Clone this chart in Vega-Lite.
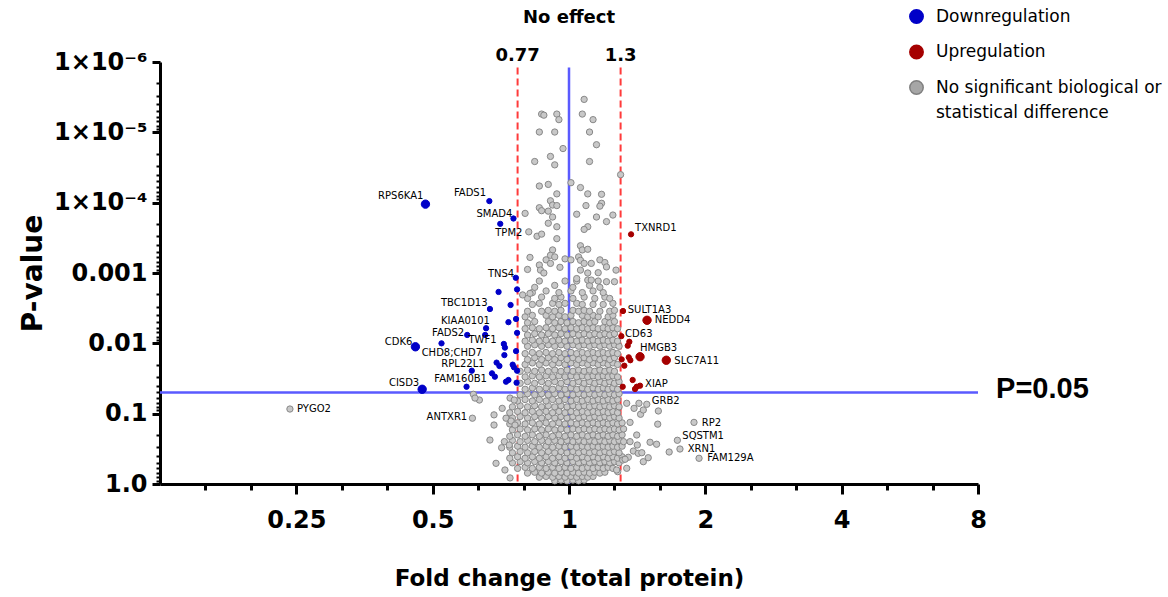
{
"$schema":"https://vega.github.io/schema/vega-lite/v6.json",
"width":818,"height":422,
"autosize":{"type":"none"},
"padding":{"left":160,"top":62,"right":190,"bottom":113},
"background":"white",
"config":{"view":{"stroke":null},"font":"DejaVu Sans","axis":{"grid":false},"style":{"guide-label":{"lineHeight":25}}},
"resolve":{"axis":{"x":"independent","y":"independent"}},
"datasets":{
"ns":[
{"f":0.93,"p":0.9},{"f":0.96,"p":0.88},{"f":0.99,"p":0.9},{"f":1.02,"p":0.88},{"f":1.05,"p":0.9},{"f":1.08,"p":0.88},
{"f":0.86,"p":0.8},{"f":0.89,"p":0.78},{"f":0.92,"p":0.8},{"f":0.95,"p":0.78},{"f":0.98,"p":0.8},{"f":1.01,"p":0.78},{"f":1.04,"p":0.8},{"f":1.07,"p":0.78},{"f":1.1,"p":0.8},{"f":1.13,"p":0.78},
{"f":0.81,"p":0.7},{"f":0.84,"p":0.68},{"f":0.87,"p":0.7},{"f":0.9,"p":0.68},{"f":0.93,"p":0.7},{"f":0.96,"p":0.68},{"f":0.99,"p":0.7},{"f":1.02,"p":0.68},{"f":1.05,"p":0.7},{"f":1.08,"p":0.68},{"f":1.11,"p":0.7},{"f":1.14,"p":0.68},{"f":1.17,"p":0.7},{"f":1.2,"p":0.68},
{"f":0.77,"p":0.6},{"f":0.8,"p":0.58},{"f":0.83,"p":0.6},{"f":0.86,"p":0.58},{"f":0.89,"p":0.6},{"f":0.92,"p":0.58},{"f":0.95,"p":0.6},{"f":0.98,"p":0.58},{"f":1.01,"p":0.6},{"f":1.04,"p":0.58},{"f":1.07,"p":0.6},{"f":1.1,"p":0.58},{"f":1.13,"p":0.6},{"f":1.16,"p":0.58},{"f":1.19,"p":0.6},{"f":1.22,"p":0.58},{"f":1.25,"p":0.6},
{"f":0.75,"p":0.5},{"f":0.78,"p":0.48},{"f":0.81,"p":0.5},{"f":0.84,"p":0.48},{"f":0.87,"p":0.5},{"f":0.9,"p":0.48},{"f":0.93,"p":0.5},{"f":0.96,"p":0.48},{"f":0.99,"p":0.5},{"f":1.02,"p":0.48},{"f":1.05,"p":0.5},{"f":1.08,"p":0.48},{"f":1.11,"p":0.5},{"f":1.14,"p":0.48},{"f":1.17,"p":0.5},{"f":1.2,"p":0.48},{"f":1.23,"p":0.5},{"f":1.26,"p":0.48},{"f":1.29,"p":0.5},
{"f":0.74,"p":0.43},{"f":0.77,"p":0.41},{"f":0.8,"p":0.43},{"f":0.83,"p":0.41},{"f":0.86,"p":0.43},{"f":0.89,"p":0.41},{"f":0.92,"p":0.43},{"f":0.95,"p":0.41},{"f":0.98,"p":0.43},{"f":1.01,"p":0.41},{"f":1.04,"p":0.43},{"f":1.07,"p":0.41},{"f":1.1,"p":0.43},{"f":1.13,"p":0.41},{"f":1.16,"p":0.43},{"f":1.19,"p":0.41},{"f":1.22,"p":0.43},{"f":1.25,"p":0.41},{"f":1.28,"p":0.43},{"f":1.31,"p":0.41},
{"f":0.75,"p":0.36},{"f":0.78,"p":0.345},{"f":0.81,"p":0.36},{"f":0.84,"p":0.345},{"f":0.87,"p":0.36},{"f":0.9,"p":0.345},{"f":0.93,"p":0.36},{"f":0.96,"p":0.345},{"f":0.99,"p":0.36},{"f":1.02,"p":0.345},{"f":1.05,"p":0.36},{"f":1.08,"p":0.345},{"f":1.11,"p":0.36},{"f":1.14,"p":0.345},{"f":1.17,"p":0.36},{"f":1.2,"p":0.345},{"f":1.23,"p":0.36},{"f":1.26,"p":0.345},{"f":1.29,"p":0.36},
{"f":0.74,"p":0.3},{"f":0.77,"p":0.29},{"f":0.8,"p":0.3},{"f":0.83,"p":0.29},{"f":0.86,"p":0.3},{"f":0.89,"p":0.29},{"f":0.92,"p":0.3},{"f":0.95,"p":0.29},{"f":0.98,"p":0.3},{"f":1.01,"p":0.29},{"f":1.04,"p":0.3},{"f":1.07,"p":0.29},{"f":1.1,"p":0.3},{"f":1.13,"p":0.29},{"f":1.16,"p":0.3},{"f":1.19,"p":0.29},{"f":1.22,"p":0.3},{"f":1.25,"p":0.29},{"f":1.28,"p":0.3},{"f":1.31,"p":0.29},
{"f":0.72,"p":0.25},{"f":0.75,"p":0.24},{"f":0.78,"p":0.25},{"f":0.81,"p":0.24},{"f":0.84,"p":0.25},{"f":0.87,"p":0.24},{"f":0.9,"p":0.25},{"f":0.93,"p":0.24},{"f":0.96,"p":0.25},{"f":0.99,"p":0.24},{"f":1.02,"p":0.25},{"f":1.05,"p":0.24},{"f":1.08,"p":0.25},{"f":1.11,"p":0.24},{"f":1.14,"p":0.25},{"f":1.17,"p":0.24},{"f":1.2,"p":0.25},{"f":1.23,"p":0.24},{"f":1.26,"p":0.25},{"f":1.29,"p":0.24},{"f":1.32,"p":0.25},
{"f":0.74,"p":0.21},{"f":0.77,"p":0.2},{"f":0.8,"p":0.21},{"f":0.83,"p":0.2},{"f":0.86,"p":0.21},{"f":0.89,"p":0.2},{"f":0.92,"p":0.21},{"f":0.95,"p":0.2},{"f":0.98,"p":0.21},{"f":1.01,"p":0.2},{"f":1.04,"p":0.21},{"f":1.07,"p":0.2},{"f":1.1,"p":0.21},{"f":1.13,"p":0.2},{"f":1.16,"p":0.21},{"f":1.19,"p":0.2},{"f":1.22,"p":0.21},{"f":1.25,"p":0.2},{"f":1.28,"p":0.21},{"f":1.31,"p":0.2},
{"f":0.75,"p":0.17},{"f":0.78,"p":0.165},{"f":0.81,"p":0.17},{"f":0.84,"p":0.165},{"f":0.87,"p":0.17},{"f":0.9,"p":0.165},{"f":0.93,"p":0.17},{"f":0.96,"p":0.165},{"f":0.99,"p":0.17},{"f":1.02,"p":0.165},{"f":1.05,"p":0.17},{"f":1.08,"p":0.165},{"f":1.11,"p":0.17},{"f":1.14,"p":0.165},{"f":1.17,"p":0.17},{"f":1.2,"p":0.165},{"f":1.23,"p":0.17},{"f":1.26,"p":0.165},{"f":1.29,"p":0.17},{"f":1.32,"p":0.165},
{"f":0.74,"p":0.14},{"f":0.77,"p":0.135},{"f":0.8,"p":0.14},{"f":0.83,"p":0.135},{"f":0.86,"p":0.14},{"f":0.89,"p":0.135},{"f":0.92,"p":0.14},{"f":0.95,"p":0.135},{"f":0.98,"p":0.14},{"f":1.01,"p":0.135},{"f":1.04,"p":0.14},{"f":1.07,"p":0.135},{"f":1.1,"p":0.14},{"f":1.13,"p":0.135},{"f":1.16,"p":0.14},{"f":1.19,"p":0.135},{"f":1.22,"p":0.14},{"f":1.25,"p":0.135},{"f":1.28,"p":0.14},{"f":1.31,"p":0.135},
{"f":0.75,"p":0.115},{"f":0.78,"p":0.11},{"f":0.81,"p":0.115},{"f":0.84,"p":0.11},{"f":0.87,"p":0.115},{"f":0.9,"p":0.11},{"f":0.93,"p":0.115},{"f":0.96,"p":0.11},{"f":0.99,"p":0.115},{"f":1.02,"p":0.11},{"f":1.05,"p":0.115},{"f":1.08,"p":0.11},{"f":1.11,"p":0.115},{"f":1.14,"p":0.11},{"f":1.17,"p":0.115},{"f":1.2,"p":0.11},{"f":1.23,"p":0.115},{"f":1.26,"p":0.11},{"f":1.29,"p":0.115},
{"f":0.74,"p":0.097},{"f":0.77,"p":0.093},{"f":0.8,"p":0.097},{"f":0.83,"p":0.093},{"f":0.86,"p":0.097},{"f":0.89,"p":0.093},{"f":0.92,"p":0.097},{"f":0.95,"p":0.093},{"f":0.98,"p":0.097},{"f":1.01,"p":0.093},{"f":1.04,"p":0.097},{"f":1.07,"p":0.093},{"f":1.1,"p":0.097},{"f":1.13,"p":0.093},{"f":1.16,"p":0.097},{"f":1.19,"p":0.093},{"f":1.22,"p":0.097},{"f":1.25,"p":0.093},{"f":1.28,"p":0.097},
{"f":0.75,"p":0.08},{"f":0.78,"p":0.077},{"f":0.81,"p":0.08},{"f":0.84,"p":0.077},{"f":0.87,"p":0.08},{"f":0.9,"p":0.077},{"f":0.93,"p":0.08},{"f":0.96,"p":0.077},{"f":0.99,"p":0.08},{"f":1.02,"p":0.077},{"f":1.05,"p":0.08},{"f":1.08,"p":0.077},{"f":1.11,"p":0.08},{"f":1.14,"p":0.077},{"f":1.17,"p":0.08},{"f":1.2,"p":0.077},{"f":1.23,"p":0.08},{"f":1.26,"p":0.077},{"f":1.29,"p":0.08},
{"f":0.77,"p":0.066},{"f":0.8,"p":0.063},{"f":0.83,"p":0.066},{"f":0.86,"p":0.063},{"f":0.89,"p":0.066},{"f":0.92,"p":0.063},{"f":0.95,"p":0.066},{"f":0.98,"p":0.063},{"f":1.01,"p":0.066},{"f":1.04,"p":0.063},{"f":1.07,"p":0.066},{"f":1.1,"p":0.063},{"f":1.13,"p":0.066},{"f":1.16,"p":0.063},{"f":1.19,"p":0.066},{"f":1.22,"p":0.063},{"f":1.25,"p":0.066},{"f":1.28,"p":0.063},
{"f":0.78,"p":0.054},{"f":0.81,"p":0.052},{"f":0.84,"p":0.054},{"f":0.87,"p":0.052},{"f":0.9,"p":0.054},{"f":0.93,"p":0.052},{"f":0.96,"p":0.054},{"f":0.99,"p":0.052},{"f":1.02,"p":0.054},{"f":1.05,"p":0.052},{"f":1.08,"p":0.054},{"f":1.11,"p":0.052},{"f":1.14,"p":0.054},{"f":1.17,"p":0.052},{"f":1.2,"p":0.054},{"f":1.23,"p":0.052},{"f":1.26,"p":0.054},{"f":1.29,"p":0.052},
{"f":0.8,"p":0.045},{"f":0.83,"p":0.043},{"f":0.86,"p":0.045},{"f":0.89,"p":0.043},{"f":0.92,"p":0.045},{"f":0.95,"p":0.043},{"f":0.98,"p":0.045},{"f":1.01,"p":0.043},{"f":1.04,"p":0.045},{"f":1.07,"p":0.043},{"f":1.1,"p":0.045},{"f":1.13,"p":0.043},{"f":1.16,"p":0.045},{"f":1.19,"p":0.043},{"f":1.22,"p":0.045},{"f":1.25,"p":0.043},{"f":1.28,"p":0.045},
{"f":0.78,"p":0.037},{"f":0.81,"p":0.035},{"f":0.84,"p":0.037},{"f":0.87,"p":0.035},{"f":0.9,"p":0.037},{"f":0.93,"p":0.035},{"f":0.96,"p":0.037},{"f":0.99,"p":0.035},{"f":1.02,"p":0.037},{"f":1.05,"p":0.035},{"f":1.08,"p":0.037},{"f":1.11,"p":0.035},{"f":1.14,"p":0.037},{"f":1.17,"p":0.035},{"f":1.2,"p":0.037},{"f":1.23,"p":0.035},{"f":1.26,"p":0.037},{"f":1.29,"p":0.035},
{"f":0.8,"p":0.03},{"f":0.83,"p":0.029},{"f":0.86,"p":0.03},{"f":0.89,"p":0.029},{"f":0.92,"p":0.03},{"f":0.95,"p":0.029},{"f":0.98,"p":0.03},{"f":1.01,"p":0.029},{"f":1.04,"p":0.03},{"f":1.07,"p":0.029},{"f":1.1,"p":0.03},{"f":1.13,"p":0.029},{"f":1.16,"p":0.03},{"f":1.19,"p":0.029},{"f":1.22,"p":0.03},{"f":1.25,"p":0.029},{"f":1.28,"p":0.03},
{"f":0.78,"p":0.025},{"f":0.81,"p":0.024},{"f":0.84,"p":0.025},{"f":0.87,"p":0.024},{"f":0.9,"p":0.025},{"f":0.93,"p":0.024},{"f":0.96,"p":0.025},{"f":0.99,"p":0.024},{"f":1.02,"p":0.025},{"f":1.05,"p":0.024},{"f":1.08,"p":0.025},{"f":1.11,"p":0.024},{"f":1.14,"p":0.025},{"f":1.17,"p":0.024},{"f":1.2,"p":0.025},{"f":1.23,"p":0.024},{"f":1.26,"p":0.025},
{"f":0.8,"p":0.02},{"f":0.83,"p":0.019},{"f":0.86,"p":0.02},{"f":0.89,"p":0.019},{"f":0.92,"p":0.02},{"f":0.95,"p":0.019},{"f":0.98,"p":0.02},{"f":1.01,"p":0.019},{"f":1.04,"p":0.02},{"f":1.07,"p":0.019},{"f":1.1,"p":0.02},{"f":1.13,"p":0.019},{"f":1.16,"p":0.02},{"f":1.19,"p":0.019},{"f":1.22,"p":0.02},{"f":1.25,"p":0.019},{"f":1.28,"p":0.02},
{"f":0.81,"p":0.017},{"f":0.84,"p":0.016},{"f":0.87,"p":0.017},{"f":0.9,"p":0.016},{"f":0.93,"p":0.017},{"f":0.96,"p":0.016},{"f":0.99,"p":0.017},{"f":1.02,"p":0.016},{"f":1.05,"p":0.017},{"f":1.08,"p":0.016},{"f":1.11,"p":0.017},{"f":1.14,"p":0.016},{"f":1.17,"p":0.017},{"f":1.2,"p":0.016},{"f":1.23,"p":0.017},{"f":1.26,"p":0.016},
{"f":0.8,"p":0.014},{"f":0.83,"p":0.0135},{"f":0.86,"p":0.014},{"f":0.89,"p":0.0135},{"f":0.92,"p":0.014},{"f":0.95,"p":0.0135},{"f":0.98,"p":0.014},{"f":1.01,"p":0.0135},{"f":1.04,"p":0.014},{"f":1.07,"p":0.0135},{"f":1.1,"p":0.014},{"f":1.13,"p":0.0135},{"f":1.16,"p":0.014},{"f":1.19,"p":0.0135},{"f":1.22,"p":0.014},{"f":1.25,"p":0.0135},{"f":1.28,"p":0.014},
{"f":0.81,"p":0.011},{"f":0.84,"p":0.0105},{"f":0.87,"p":0.011},{"f":0.9,"p":0.0105},{"f":0.93,"p":0.011},{"f":0.96,"p":0.0105},{"f":0.99,"p":0.011},{"f":1.02,"p":0.0105},{"f":1.05,"p":0.011},{"f":1.08,"p":0.0105},{"f":1.11,"p":0.011},{"f":1.14,"p":0.0105},{"f":1.17,"p":0.011},{"f":1.2,"p":0.0105},{"f":1.23,"p":0.011},{"f":1.26,"p":0.0105},{"f":1.29,"p":0.011},
{"f":0.8,"p":0.0093},{"f":0.83,"p":0.009},{"f":0.86,"p":0.0093},{"f":0.89,"p":0.009},{"f":0.92,"p":0.0093},{"f":0.95,"p":0.009},{"f":0.98,"p":0.0093},{"f":1.01,"p":0.009},{"f":1.04,"p":0.0093},{"f":1.07,"p":0.009},{"f":1.1,"p":0.0093},{"f":1.13,"p":0.009},{"f":1.16,"p":0.0093},{"f":1.19,"p":0.009},{"f":1.22,"p":0.0093},{"f":1.25,"p":0.009},{"f":1.28,"p":0.0093},
{"f":0.81,"p":0.0076},{"f":0.84,"p":0.0073},{"f":0.87,"p":0.0076},{"f":0.9,"p":0.0073},{"f":0.93,"p":0.0076},{"f":0.96,"p":0.0073},{"f":0.99,"p":0.0076},{"f":1.02,"p":0.0073},{"f":1.05,"p":0.0076},{"f":1.08,"p":0.0073},{"f":1.11,"p":0.0076},{"f":1.14,"p":0.0073},{"f":1.17,"p":0.0076},{"f":1.2,"p":0.0073},{"f":1.23,"p":0.0076},{"f":1.26,"p":0.0073},
{"f":0.8,"p":0.0062},{"f":0.83,"p":0.006},{"f":0.86,"p":0.0062},{"f":0.89,"p":0.006},{"f":0.92,"p":0.0062},{"f":0.95,"p":0.006},{"f":0.98,"p":0.0062},{"f":1.01,"p":0.006},{"f":1.04,"p":0.0062},{"f":1.07,"p":0.006},{"f":1.1,"p":0.0062},{"f":1.13,"p":0.006},{"f":1.16,"p":0.0062},{"f":1.19,"p":0.006},{"f":1.22,"p":0.0062},{"f":1.25,"p":0.006},{"f":1.28,"p":0.0062},
{"f":0.81,"p":0.0051},{"f":0.84,"p":0.0049},{"f":0.9,"p":0.0049},{"f":0.93,"p":0.0051},{"f":0.96,"p":0.0049},{"f":0.99,"p":0.0051},{"f":1.02,"p":0.0049},{"f":1.05,"p":0.0051},{"f":1.08,"p":0.0049},{"f":1.11,"p":0.0051},{"f":1.14,"p":0.0049},{"f":1.2,"p":0.0049},{"f":1.23,"p":0.0051},{"f":1.26,"p":0.0049},
{"f":0.8,"p":0.0042},{"f":0.83,"p":0.004},{"f":0.89,"p":0.004},{"f":0.92,"p":0.0042},{"f":0.95,"p":0.004},{"f":0.98,"p":0.0042},{"f":1.01,"p":0.004},{"f":1.07,"p":0.004},{"f":1.1,"p":0.0042},{"f":1.13,"p":0.004},{"f":1.16,"p":0.0042},{"f":1.22,"p":0.0042},{"f":1.25,"p":0.004},
{"f":0.81,"p":0.0035},{"f":0.87,"p":0.0035},{"f":0.9,"p":0.0034},{"f":0.93,"p":0.0035},{"f":0.96,"p":0.0034},{"f":1.02,"p":0.0034},{"f":1.05,"p":0.0035},{"f":1.08,"p":0.0034},{"f":1.11,"p":0.0035},{"f":1.17,"p":0.0035},{"f":1.23,"p":0.0035},{"f":1.26,"p":0.0034},
{"f":0.83,"p":0.0028},{"f":0.86,"p":0.0027},{"f":0.92,"p":0.0027},{"f":0.95,"p":0.0028},{"f":0.98,"p":0.0027},{"f":1.04,"p":0.0027},{"f":1.07,"p":0.0028},{"f":1.13,"p":0.0028},{"f":1.19,"p":0.0028},{"f":1.25,"p":0.0027},
{"f":0.81,"p":0.0023},{"f":0.87,"p":0.0022},{"f":0.93,"p":0.0023},{"f":0.96,"p":0.0022},{"f":1.02,"p":0.0023},{"f":1.08,"p":0.0022},{"f":1.14,"p":0.0023},{"f":1.2,"p":0.0022},{"f":1.23,"p":0.0023},
{"f":0.83,"p":0.0019},{"f":0.89,"p":0.0018},{"f":0.95,"p":0.0019},{"f":1.01,"p":0.0018},{"f":1.07,"p":0.0019},{"f":1.13,"p":0.0018},{"f":1.19,"p":0.0019},
{"f":0.84,"p":0.0016},{"f":0.93,"p":0.0015},{"f":1.02,"p":0.0016},{"f":1.11,"p":0.0015},{"f":1.17,"p":0.0016},
{"f":0.86,"p":0.0013},{"f":0.98,"p":0.0013},{"f":1.04,"p":0.0013},{"f":1.16,"p":0.0013},
{"f":1.08,"p":3.4e-6},{"f":0.87,"p":5.5e-6},{"f":0.88,"p":5.7e-6},{"f":0.94,"p":5.5e-6},{"f":0.95,"p":6.6e-6},{"f":1.07,"p":5.5e-6},{"f":1.13,"p":6.6e-6},{"f":0.86,"p":9.9e-6},{"f":0.93,"p":9.9e-6},{"f":1.11,"p":9.9e-6},{"f":1.15,"p":1.5e-5},{"f":0.97,"p":1.7e-5},{"f":0.91,"p":2.2e-5},{"f":0.84,"p":2.6e-5},{"f":0.93,"p":2.9e-5},{"f":1.11,"p":2.6e-5},{"f":1.3,"p":4.0e-5},{"f":1.01,"p":5.2e-5},{"f":0.86,"p":5.8e-5},{"f":0.9,"p":5.5e-5},{"f":1.06,"p":6.1e-5},{"f":0.94,"p":7.5e-5},{"f":1.1,"p":7.5e-5},{"f":1.18,"p":7.6e-5},{"f":0.91,"p":9.4e-5},{"f":0.86,"p":1.18e-4},{"f":0.92,"p":1.08e-4},{"f":0.94,"p":1.1e-4},{"f":0.87,"p":1.3e-4},{"f":0.9,"p":1.32e-4},{"f":1.09,"p":1.1e-4},{"f":1.18,"p":1.02e-4},{"f":1.17,"p":1.12e-4},{"f":0.8,"p":1.42e-4},{"f":1.04,"p":1.46e-4},{"f":1.25,"p":1.5e-4},{"f":0.92,"p":1.6e-4},{"f":1.15,"p":1.6e-4},{"f":1.21,"p":1.86e-4},{"f":0.9,"p":1.96e-4},{"f":0.94,"p":2.2e-4},{"f":1.1,"p":2.2e-4},{"f":1.08,"p":2.4e-4},{"f":0.815,"p":2.6e-4},{"f":0.85,"p":3e-4},{"f":0.87,"p":2.8e-4},{"f":0.94,"p":3.25e-4},{"f":1.06,"p":4.1e-4},{"f":1.07,"p":4.7e-4},{"f":1.1,"p":4.6e-4},{"f":0.92,"p":4.7e-4},{"f":0.91,"p":5.6e-4},{"f":0.82,"p":6e-4},{"f":0.93,"p":5.9e-4},{"f":0.89,"p":6.5e-4},{"f":0.98,"p":6.3e-4},{"f":1.01,"p":6.5e-4},{"f":1.05,"p":5.9e-4},{"f":1.06,"p":6.6e-4},{"f":1.08,"p":7.3e-4},{"f":1.12,"p":7.3e-4},{"f":1.17,"p":6.5e-4},{"f":1.2,"p":7.1e-4},{"f":1.21,"p":8.2e-4},{"f":0.91,"p":7.3e-4},{"f":0.955,"p":8.3e-4},{"f":0.86,"p":7.7e-4},{"f":0.865,"p":9.1e-4},{"f":0.88,"p":1.0e-3},{"f":0.81,"p":8.9e-4},{"f":1.06,"p":9.1e-4},{"f":1.1,"p":1.0e-3},{"f":1.16,"p":9.9e-4},{"f":1.27,"p":9.1e-4},{"f":1.04,"p":1.2e-3},{"f":1.1,"p":1.26e-3},{"f":1.12,"p":1.26e-3},{"f":1.21,"p":1.33e-3},{"f":1.26,"p":1.33e-3},{"f":0.79,"p":2.05e-3},{"f":0.82,"p":1.95e-3},
{"f":0.615,"p":0.053},{"f":0.634,"p":0.064},{"f":0.62,"p":0.06},{"f":0.612,"p":0.116},{"f":0.683,"p":0.104},{"f":0.683,"p":0.145},{"f":0.712,"p":0.084},{"f":0.726,"p":0.116},{"f":0.669,"p":0.237},{"f":0.71,"p":0.305},{"f":0.69,"p":0.508},{"f":0.738,"p":0.279},{"f":0.741,"p":0.06},{"f":0.757,"p":0.064},{"f":0.745,"p":0.127},{"f":0.76,"p":0.145},{"f":0.722,"p":0.632},{"f":0.741,"p":0.82},{"f":0.242,"p":0.0859},
{"f":1.341,"p":0.0712},{"f":1.392,"p":0.084},{"f":1.427,"p":0.0712},{"f":1.439,"p":0.102},{"f":1.459,"p":0.0887},{"f":1.485,"p":0.0736},{"f":1.575,"p":0.0916},{"f":1.364,"p":0.133},{"f":1.57,"p":0.141},{"f":1.888,"p":0.133},{"f":1.51,"p":0.255},{"f":1.561,"p":0.272},{"f":1.364,"p":0.25},{"f":1.387,"p":0.34},{"f":1.422,"p":0.366},{"f":1.314,"p":0.456},{"f":1.459,"p":0.482},{"f":1.341,"p":0.598},{"f":1.281,"p":0.668},{"f":1.411,"p":0.201},{"f":1.415,"p":0.279},{"f":1.664,"p":0.351},{"f":1.448,"p":0.359},{"f":1.496,"p":0.423},{"f":1.352,"p":0.417},{"f":1.33,"p":0.445},{"f":1.274,"p":0.632},{"f":1.735,"p":0.239},{"f":1.758,"p":0.318},{"f":1.937,"p":0.431}
],
"sig":[
{"f":0.482,"p":1.05e-4,"g":"d","k":1},{"f":0.667,"p":9.5e-5,"g":"d"},{"f":0.754,"p":1.68e-4,"g":"d"},{"f":0.705,"p":2.0e-4,"g":"d"},{"f":0.763,"p":1.17e-3,"g":"d"},{"f":0.699,"p":1.86e-3,"g":"d"},{"f":0.768,"p":1.71e-3,"g":"d"},{"f":0.669,"p":3.25e-3,"g":"d"},{"f":0.743,"p":2.85e-3,"g":"d"},{"f":0.656,"p":6.1e-3,"g":"d"},{"f":0.653,"p":7.6e-3,"g":"d"},{"f":0.735,"p":5.0e-3,"g":"d"},{"f":0.764,"p":4.5e-3,"g":"d"},{"f":0.768,"p":7.1e-3,"g":"d"},{"f":0.596,"p":7.6e-3,"g":"d"},{"f":0.458,"p":0.0112,"g":"d","k":1},{"f":0.523,"p":0.01,"g":"d"},{"f":0.718,"p":0.0102,"g":"d"},{"f":0.722,"p":0.0115,"g":"d"},{"f":0.764,"p":0.0129,"g":"d"},{"f":0.72,"p":0.0147,"g":"d"},{"f":0.61,"p":0.0245,"g":"d"},{"f":0.692,"p":0.0188,"g":"d"},{"f":0.702,"p":0.021,"g":"d"},{"f":0.751,"p":0.0201,"g":"d"},{"f":0.756,"p":0.0219,"g":"d"},{"f":0.768,"p":0.0245,"g":"d"},{"f":0.676,"p":0.0267,"g":"d"},{"f":0.686,"p":0.0298,"g":"d"},{"f":0.594,"p":0.0414,"g":"d"},{"f":0.726,"p":0.0351,"g":"d"},{"f":0.735,"p":0.0332,"g":"d"},{"f":0.766,"p":0.0363,"g":"d"},{"f":0.474,"p":0.045,"g":"d","k":1},
{"f":1.371,"p":2.82e-4,"g":"u"},{"f":1.316,"p":3.47e-3,"g":"u"},{"f":1.487,"p":4.7e-3,"g":"u","k":1},{"f":1.305,"p":7.9e-3,"g":"u"},{"f":1.359,"p":9.5e-3,"g":"u"},{"f":1.348,"p":0.0108,"g":"u"},{"f":1.435,"p":0.0155,"g":"u","k":1},{"f":1.355,"p":0.0158,"g":"u"},{"f":1.366,"p":0.0174,"g":"u"},{"f":1.307,"p":0.0169,"g":"u"},{"f":1.325,"p":0.0208,"g":"u"},{"f":1.64,"p":0.0174,"g":"u","k":1},{"f":1.382,"p":0.0332,"g":"u"},{"f":1.411,"p":0.0414,"g":"u"},{"f":1.435,"p":0.04,"g":"u"},{"f":1.399,"p":0.0446,"g":"u"},{"f":1.314,"p":0.0414,"g":"u"}
],
"lab":[
{"t":"RPS6KA1","f":0.477,"p":8.0e-5,"s":"l"},{"t":"FADS1","f":0.656,"p":7.36e-5,"s":"l"},{"t":"SMAD4","f":0.75,"p":1.45e-4,"s":"l"},{"t":"TPM2","f":0.789,"p":2.72e-4,"s":"l"},{"t":"TNS4","f":0.757,"p":1.03e-3,"s":"l"},{"t":"TBC1D13","f":0.661,"p":2.7e-3,"s":"l"},{"t":"KIAA0101","f":0.669,"p":4.81e-3,"s":"l"},{"t":"FADS2","f":0.587,"p":7.2e-3,"s":"l"},{"t":"CDK6","f":0.451,"p":9.5e-3,"s":"l"},{"t":"TWF1","f":0.692,"p":9.1e-3,"s":"l"},{"t":"CHD8;CHD7","f":0.643,"p":0.0136,"s":"l"},{"t":"RPL22L1","f":0.651,"p":0.0199,"s":"l"},{"t":"FAM160B1","f":0.659,"p":0.0325,"s":"l"},{"t":"CISD3","f":0.467,"p":0.0363,"s":"l"},{"t":"ANTXR1","f":0.596,"p":0.11,"s":"l"},
{"t":"TXNRD1","f":1.399,"p":2.31e-4,"s":"r"},{"t":"SULT1A3","f":1.348,"p":3.32e-3,"s":"r"},{"t":"NEDD4","f":1.546,"p":4.7e-3,"s":"r"},{"t":"CD63","f":1.33,"p":7.44e-3,"s":"r"},{"t":"HMGB3","f":1.435,"p":0.0115,"s":"r"},{"t":"SLC7A11","f":1.708,"p":0.0178,"s":"r"},{"t":"XIAP","f":1.472,"p":0.0375,"s":"r"},{"t":"GRB2","f":1.523,"p":0.0667,"s":"r"},{"t":"RP2","f":1.964,"p":0.134,"s":"r"},{"t":"SQSTM1","f":1.779,"p":0.208,"s":"r"},{"t":"XRN1","f":1.829,"p":0.318,"s":"r"},{"t":"FAM129A","f":2.02,"p":0.431,"s":"r"},{"t":"PYGO2","f":0.2508,"p":0.0859,"s":"r"}
]
},
"layer":[
{"data":{"values":[{"f":0.77,"p0":1.2e-6,"p1":1},{"f":1.3,"p0":1.2e-6,"p1":1}]},
 "mark":{"type":"rule","color":"#ff3b3b","strokeWidth":2,"strokeDash":[7,4]},
 "encoding":{
  "x":{"field":"f","type":"quantitative","scale":{"type":"log","base":2,"domain":[0.125,8],"nice":false},
       "axis":{"orient":"bottom","values":[0.1575,0.1984,0.315,0.397,0.63,0.794,1.26,1.587,2.52,3.175,5.04,6.35],"labels":false,"domain":false,"tickSize":6,"tickWidth":3,"tickColor":"black","title":null,"grid":false}},
  "y":{"field":"p0","type":"quantitative","scale":{"type":"log","domain":[1e-6,1],"reverse":true,"nice":false},
       "axis":{"orient":"left","values":[2e-6,3e-6,4e-6,5e-6,6e-6,7e-6,8e-6,9e-6,2e-5,3e-5,4e-5,5e-5,6e-5,7e-5,8e-5,9e-5,2e-4,3e-4,4e-4,5e-4,6e-4,7e-4,8e-4,9e-4,0.002,0.003,0.004,0.005,0.006,0.007,0.008,0.009,0.02,0.03,0.04,0.05,0.06,0.07,0.08,0.09,0.2,0.3,0.4,0.5,0.6,0.7,0.8,0.9],"labels":false,"domain":false,"tickSize":4,"tickWidth":2,"tickColor":"black","title":null,"grid":false}},
  "y2":{"field":"p1"}}},
{"data":{"values":[{"f":1,"p0":1.2e-6,"p1":1}]},
 "mark":{"type":"rule","color":"#5a5aff","strokeWidth":2.5},
 "encoding":{"x":{"field":"f","type":"quantitative","axis":null},"y":{"field":"p0","type":"quantitative","axis":null},"y2":{"field":"p1"}}},
{"data":{"values":[{"p":0.05,"f0":0.125,"f1":8}]},
 "mark":{"type":"rule","color":"#5a5aff","strokeWidth":2.5},
 "encoding":{"x":{"field":"f0","type":"quantitative","axis":null},"x2":{"field":"f1"},"y":{"field":"p","type":"quantitative","axis":null}}},
{"data":{"name":"ns"},
 "mark":{"type":"circle","fill":"#c8c8c8","stroke":"#888888","strokeWidth":1,"size":40,"opacity":1},
 "encoding":{
  "x":{"field":"f","type":"quantitative","scale":{"type":"log","base":2,"domain":[0.125,8],"nice":false},
       "axis":{"orient":"bottom","values":[0.25,0.5,1,2,4,8],"format":"~g","labelFont":"DejaVu Sans","labelFontWeight":"bold","labelFontSize":24,"labelColor":"black","labelPadding":14,"labelFlush":false,"labelOverlap":false,"tickSize":10,"tickWidth":3,"tickColor":"black","domainColor":"black","domainWidth":3,"title":"Fold change (total protein)","titleFont":"DejaVu Sans","titleFontSize":23,"titleFontWeight":"bold","titleColor":"black","titlePadding":35,"grid":false}},
  "y":{"field":"p","type":"quantitative","scale":{"type":"log","domain":[1e-6,1],"reverse":true,"nice":false},
       "axis":{"orient":"left","values":[1e-6,1e-5,1e-4,0.001,0.01,0.1,1],"labelExpr":"datum.value < 2e-6 ? '1×10⁻⁶' : datum.value < 2e-5 ? '1×10⁻⁵' : datum.value < 2e-4 ? '1×10⁻⁴' : datum.value > 0.5 ? '1.0' : format(datum.value, '~g')","labelFont":"DejaVu Sans","labelFontWeight":"bold","labelFontSize":24,"labelColor":"black","labelPadding":5,"labelFlush":false,"labelOverlap":false,"tickSize":8,"tickWidth":3,"tickColor":"black","domainColor":"black","domainWidth":3,"title":"P-value","titleFont":"DejaVu Sans","titleFontSize":28,"titleFontWeight":"bold","titleColor":"black","titlePadding":6,"grid":false}}}},
{"data":{"name":"sig"},
 "mark":{"type":"circle","opacity":1,"strokeWidth":1},
 "encoding":{
  "x":{"field":"f","type":"quantitative","axis":null},
  "y":{"field":"p","type":"quantitative","axis":null},
  "fill":{"field":"g","type":"nominal","scale":{"domain":["d","u","n"],"range":["#0000c8","#a50000","#a6a6a6"]},
    "legend":{"title":null,"orient":"none","legendX":748,"legendY":-54,"padding":0,"symbolType":"circle","symbolSize":180,"symbolStrokeWidth":1.5,"labelFont":"DejaVu Sans","labelFontSize":17,"labelColor":"black","labelOffset":11,"labelLimit":0,"rowPadding":14.5,"labelExpr":"datum.value == 'd' ? 'Downregulation' : datum.value == 'u' ? 'Upregulation' : ['No significant biological or', 'statistical difference']"}},
  "stroke":{"field":"g","type":"nominal","scale":{"domain":["d","u","n"],"range":["#0000c8","#a50000","#808080"]},
    "legend":{"title":null,"orient":"none","legendX":748,"legendY":-54,"padding":0,"symbolType":"circle","symbolSize":180,"symbolStrokeWidth":1.5,"labelFont":"DejaVu Sans","labelFontSize":17,"labelColor":"black","labelOffset":11,"labelLimit":0,"rowPadding":14.5,"labelExpr":"datum.value == 'd' ? 'Downregulation' : datum.value == 'u' ? 'Upregulation' : ['No significant biological or', 'statistical difference']"}},
  "size":{"condition":{"test":"datum.k == 1","value":70},"value":28}}},
{"data":{"name":"lab"},"transform":[{"filter":"datum.s == 'l'"}],
 "mark":{"type":"text","align":"right","baseline":"middle","font":"DejaVu Sans","fontSize":10,"color":"black"},
 "encoding":{"x":{"field":"f","type":"quantitative","axis":null},"y":{"field":"p","type":"quantitative","axis":null},"text":{"field":"t"}}},
{"data":{"name":"lab"},"transform":[{"filter":"datum.s == 'r'"}],
 "mark":{"type":"text","align":"left","baseline":"middle","font":"DejaVu Sans","fontSize":10,"color":"black"},
 "encoding":{"x":{"field":"f","type":"quantitative","axis":null},"y":{"field":"p","type":"quantitative","axis":null},"text":{"field":"t"}}},
{"data":{"values":[{"t":"No effect","f":1,"p":2.4e-7},{"t":"0.77","f":0.77,"p":8.2e-7},{"t":"1.3","f":1.3,"p":8.2e-7}]},
 "mark":{"type":"text","align":"center","baseline":"middle","font":"DejaVu Sans","fontSize":18,"fontWeight":"bold","color":"black"},
 "encoding":{"x":{"field":"f","type":"quantitative","axis":null},"y":{"field":"p","type":"quantitative","axis":null},"text":{"field":"t"}}},
{"data":{"values":[{"t":"P=0.05","f":8.77,"p":0.044}]},
 "mark":{"type":"text","align":"left","baseline":"middle","font":"Liberation Sans","fontSize":29,"fontWeight":"bold","color":"black"},
 "encoding":{"x":{"field":"f","type":"quantitative","axis":null},"y":{"field":"p","type":"quantitative","axis":null},"text":{"field":"t"}}}
]
}
